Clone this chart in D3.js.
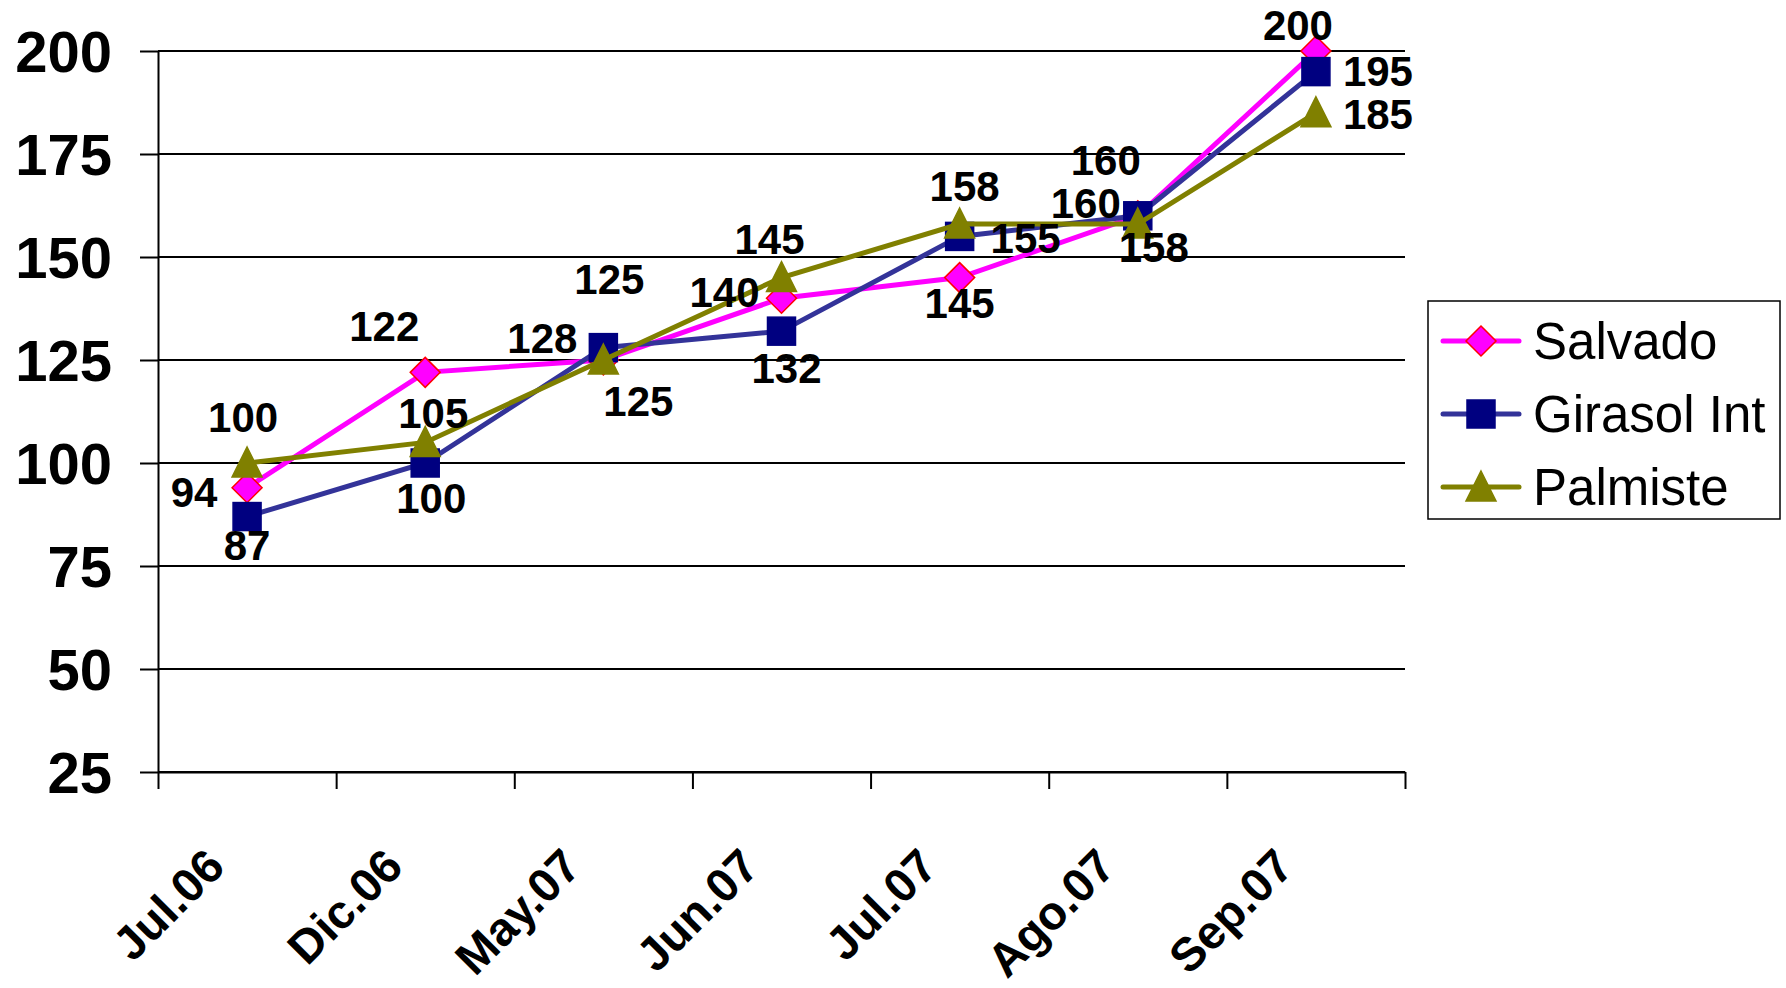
<!DOCTYPE html>
<html>
<head>
<meta charset="utf-8">
<script src="https://cdn.jsdelivr.net/npm/d3@7"></script>
<style>
  body { margin: 0; background: #fff; }
  text { font-family: "Liberation Sans", Arial, sans-serif; }
</style>
</head>
<body>
<div id="viz"></div>
<script>
(function() {

var categories = ["Jul.06", "Dic.06", "May.07", "Jun.07", "Jul.07", "Ago.07", "Sep.07"];
var yTicks = [25, 50, 75, 100, 125, 150, 175, 200];

var salvado  = [94, 122, 125, 140, 145, 160, 200];
var girasol  = [87, 100, 128, 132, 155, 160, 195];
var palmiste = [100, 105, 125, 145, 158, 158, 185];

// where each value label sits relative to its marker
var labelShift = {
    "Salvado":     [[-53, 4], [-41, -46], [6, -81], [-57, -6], [0, 25], [-32, -56], [-18, -26]],
    "Girasol Int": [[0, 28], [6, 35], [-61, -10], [5, 37], [66, 1], [-52, -13], [62, -1]],
    "Palmiste":    [[-4, -46], [8, -30], [35, 41], [-12, -39], [5, -38], [16, 23], [62, 1]]
};

var series = [
    {name: "Salvado", values: salvado, line: "#ff00ff", fill: "#ff00ff", stroke: "#ff0000", shape: "diamond"},
    {name: "Girasol Int", values: girasol, line: "#333399", fill: "#000080", stroke: "#000080", shape: "square"},
    {name: "Palmiste", values: palmiste, line: "#808000", fill: "#808000", stroke: "#808000", shape: "triangle"}
];

var W = 1786, H = 988;
var left = 158, right = 1405, top = 51, bottom = 772;

var svg = d3.select("#viz").append("svg")
    .attr("width", W)
    .attr("height", H);

var x = d3.scaleBand().domain(categories).range([left, right]);
var xEdge = d3.scaleLinear().domain([0, categories.length]).range([left, right]);
var y = d3.scaleLinear().domain([25, 200]).range([bottom, top]);

// gridlines
svg.append("g").selectAll("line")
    .data(yTicks)
    .enter().append("line")
    .attr("x1", left).attr("x2", right)
    .attr("y1", function(d){ return y(d); })
    .attr("y2", function(d){ return y(d); })
    .style("stroke", "#000")
    .style("stroke-width", 2);

// y axis
var yAxis = svg.append("g")
    .attr("transform", "translate(" + left + ",0)")
    .call(d3.axisLeft(y).tickValues(yTicks).tickSize(18).tickPadding(28).tickSizeOuter(0));
yAxis.select(".domain").style("stroke", "#000").style("stroke-width", 2);
yAxis.selectAll(".tick line").style("stroke", "#000").style("stroke-width", 2);
yAxis.selectAll(".tick text")
    .style("font-size", "58px")
    .style("font-weight", "bold")
    .attr("dy", "0.36em")
    .style("fill", "#000");

// x axis with ticks between categories
var xAxis = svg.append("g")
    .attr("transform", "translate(0," + bottom + ")")
    .call(d3.axisBottom(xEdge).tickValues(d3.range(categories.length + 1))
        .tickFormat("").tickSize(17).tickSizeOuter(0));
xAxis.select(".domain").style("stroke", "#000").style("stroke-width", 2);
xAxis.selectAll(".tick line").style("stroke", "#000").style("stroke-width", 2);

svg.append("g").selectAll("text")
    .data(categories)
    .enter().append("text")
    .attr("transform", function(d){
        return "translate(" + (x(d) + x.bandwidth() / 2 - 20) + "," + 869 + ") rotate(-45)";
    })
    .style("text-anchor", "end")
    .style("font-size", "47px")
    .style("font-weight", "bold")
    .text(function(d){ return d; });

var symbolFor = {
    diamond: function(g) {
        return g.append("path").attr("d", "M0,-15L15,0L0,15L-15,0Z");
    },
    square: function(g) {
        return g.append("rect").attr("x", -14).attr("y", -14).attr("width", 28).attr("height", 28);
    },
    triangle: function(g) {
        return g.append("path").attr("d", "M0,-16L15,14L-15,14Z");
    }
};

var line = d3.line()
    .x(function(d, i){ return x(categories[i]) + x.bandwidth() / 2; })
    .y(function(d){ return y(d); });

series.forEach(function(s) {
    var g = svg.append("g");
    g.append("path")
        .attr("d", line(s.values))
        .style("fill", "none")
        .style("stroke", s.line)
        .style("stroke-width", 5);
    g.selectAll("g.mk")
        .data(s.values)
        .enter().append("g")
        .attr("class", "mk")
        .attr("transform", function(d, i){
            return "translate(" + (x(categories[i]) + x.bandwidth() / 2) + "," + y(d) + ")";
        })
        .each(function() {
            symbolFor[s.shape](d3.select(this))
                .style("fill", s.fill)
                .style("stroke", s.stroke)
                .style("stroke-width", 1.5);
        });
});

// value labels
series.forEach(function(s) {
    svg.append("g").selectAll("text")
        .data(s.values)
        .enter().append("text")
        .attr("x", function(d, i){ return x(categories[i]) + x.bandwidth() / 2 + labelShift[s.name][i][0]; })
        .attr("y", function(d, i){ return y(d) + labelShift[s.name][i][1]; })
        .attr("dy", "0.36em")
        .style("text-anchor", "middle")
        .style("font-size", "42px")
        .style("font-weight", "bold")
        .text(function(d){ return d; });
});

// legend
var legend = svg.append("g");
legend.append("rect")
    .attr("x", 1428).attr("y", 301)
    .attr("width", 352).attr("height", 218)
    .style("fill", "#fff")
    .style("stroke", "#000")
    .style("stroke-width", 1.5);

var item = legend.selectAll("g.item")
    .data(series)
    .enter().append("g")
    .attr("class", "item")
    .attr("transform", function(d, i){ return "translate(1481," + (341 + i * 73) + ")"; });

item.append("line")
    .attr("x1", -38).attr("x2", 38)
    .style("stroke", function(d){ return d.line; })
    .style("stroke-width", 5)
    .style("stroke-linecap", "round");

item.each(function(s) {
    symbolFor[s.shape](d3.select(this))
        .style("fill", s.fill)
        .style("stroke", s.stroke)
        .style("stroke-width", 1.5);
});

item.append("text")
    .attr("x", 52)
    .attr("dy", "0.36em")
    .style("font-size", "51px")
    .text(function(d){ return d.name; });

})();
</script>
</body>
</html>
